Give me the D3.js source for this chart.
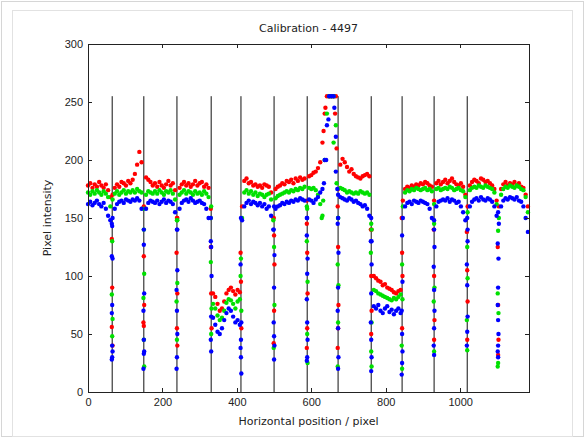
<!DOCTYPE html>
<meta charset="utf-8">
<style>
body { margin: 0; background: #fff; }
svg { display: block; font-family: "DejaVu Sans", sans-serif; }
.axis text { font-size: 11px; fill: #222; }
.axis line { stroke: #222; shape-rendering: crispEdges; }
.axis path { display: none; }
</style>
<body>
<div id="chart"></div>
<script src="https://cdnjs.cloudflare.com/ajax/libs/d3/7.8.5/d3.min.js"></script>
<script>
// sample grid: one value every 6 px of horizontal position (0..1182)
var step = 6;

var red = [
  178,180,176,179,177,181,178,176,179,174,
  168,170,176,179,177,181,180,178,182,180,
  183,188,196,207,198,160,185,183,181,178,
  180,177,181,178,176,179,182,178,180,174,
  150,176,179,181,178,180,177,179,182,178,
  180,181,177,179,176,158,85,82,76,70,
  72,78,85,88,90,87,84,88,86,160,
  182,184,180,181,178,179,177,178,176,179,
  178,177,172,150,175,177,178,180,179,182,
  181,183,180,184,182,185,183,184,165,186,
  187,189,190,193,198,215,240,255,255,255,
  255,255,175,196,201,198,194,190,192,188,
  186,185,184,186,187,188,186,140,100,98,
  96,95,92,93,90,89,88,86,85,87,
  88,165,175,177,176,178,177,179,178,180,
  179,181,180,178,177,165,180,182,179,181,
  183,180,182,184,181,179,178,180,177,170,
  160,178,181,183,182,180,184,183,181,182,
  180,178,175,165,160,175,179,181,178,180,
  179,181,178,180,177,176,170,160
];

var green = [
  172,170,173,171,174,172,170,173,171,168,
  160,166,171,173,170,172,174,171,173,172,
  174,172,175,173,172,158,170,173,172,171,
  173,171,174,172,170,173,172,174,171,166,
  148,170,172,174,171,173,172,170,173,171,
  172,170,173,171,168,150,76,72,66,62,
  64,70,77,80,79,76,72,78,80,150,
  172,174,171,173,170,172,169,171,170,168,
  170,171,166,148,167,169,170,171,172,173,
  172,174,173,175,174,176,175,177,160,176,
  175,176,174,170,162,152,200,240,255,255,
  255,230,150,176,175,174,172,173,172,171,
  172,171,173,172,171,172,170,140,88,87,
  85,84,83,82,81,80,79,81,80,82,
  84,160,172,174,173,175,174,176,175,174,
  175,176,174,175,173,162,175,176,174,175,
  176,175,177,176,174,175,176,174,173,168,
  155,174,176,177,176,178,177,176,178,177,
  176,175,172,162,150,170,175,177,176,178,
  177,176,178,177,175,174,168,155
];

var blue = [
  162,164,161,163,165,162,160,163,158,152,
  148,150,158,162,164,165,163,166,165,164,
  166,165,167,165,158,140,158,163,165,164,
  163,165,162,164,166,163,165,164,162,155,
  140,158,163,165,166,164,167,165,163,164,
  165,163,162,158,150,130,64,58,52,50,
  55,62,68,72,70,65,60,62,58,148,
  160,163,165,162,164,163,161,163,160,162,
  158,160,152,140,158,160,161,163,162,164,
  163,165,164,166,165,167,166,165,150,166,
  165,163,166,168,172,175,200,230,255,255,
  255,220,150,168,167,166,165,167,166,164,
  165,163,162,160,161,158,152,130,74,72,
  75,70,68,72,74,69,71,67,70,72,
  68,150,160,163,164,162,165,164,163,165,
  164,163,162,158,150,140,160,164,165,166,
  165,167,164,166,165,163,164,160,155,148,
  140,160,164,166,167,165,168,166,165,167,
  166,164,160,152,145,160,165,167,166,168,
  167,166,168,165,164,160,150,138
];

// extra points at the edges (x, intensity)
var redDrop = [
  [64,132],[65,90],[64,56],[66,40],
  [150,117],[151,75],[149,60],[150,57],
  [239,150],[238,120],[240,85],[239,55],[240,40],
  [330,125],[331,85],[332,55],
  [410,120],[411,95],[412,55],
  [499,150],[500,135],[501,110],[500,70],[499,42],
  [588,145],[589,120],[590,85],[589,55],[588,38],
  [671,160],[672,125],[673,75],[672,55],[671,38],[633,225],[638,245],[664,240],[668,210],
  [760,140],[761,100],[762,70],[761,50],
  [843,150],[844,120],[845,100],[844,55],
  [929,140],[930,100],[931,62],[930,45],
  [1018,138],[1019,105],[1020,78],[1019,45],
  [1101,125],[1102,75],[1103,45],[1102,32]
];

var greenDrop = [
  [65,130],[64,84],[66,63],[65,48],
  [150,140],[151,102],[149,81],[150,45],[151,22],
  [239,148],[240,94],[238,78],[239,45],
  [331,160],[330,112],[332,72],[331,50],
  [411,115],[410,100],[412,70],
  [500,125],[501,75],[499,38],
  [589,158],[588,130],[590,95],[589,50],[590,25],
  [672,150],[671,110],[673,92],[672,60],[671,22],[628,150],[632,165],[660,215],[668,180],
  [761,145],[760,120],[762,60],[761,35],[762,22],
  [844,110],[845,80],[843,40],[844,20],
  [930,145],[931,90],[929,78],[930,35],
  [1019,125],[1020,98],[1018,62],[1019,36],
  [1102,139],[1101,85],[1103,68],[1102,25],[1101,22]
];

var blueDrop = [
  [64,145],[65,143],[64,117],[66,115],[65,75],[64,68],[65,40],[66,35],[65,30],[64,28],
  [150,127],[151,85],[149,70],[150,45],[151,35],[150,33],[149,20],
  [239,140],[240,105],[238,88],[239,70],[240,50],[239,30],[238,20],
  [330,150],[331,125],[332,100],[331,65],[330,45],[331,35],
  [411,150],[410,110],[412,60],[411,45],[410,38],[411,30],[412,16],
  [500,160],[499,140],[501,118],[500,90],[499,60],[500,48],[501,40],[500,28],
  [589,150],[588,135],[590,115],[589,102],[588,80],[589,60],[590,45],[589,30],[588,27],
  [672,170],[671,145],[673,120],[672,90],[671,70],[672,55],[673,30],[672,20],
  [634,180],[640,200],[646,235],[662,245],[666,190],[670,175],
  [761,150],[760,130],[762,110],[761,85],[760,60],[761,45],[762,30],[761,18],
  [844,135],[845,95],[843,70],[844,50],[845,35],[844,25],[843,15],
  [930,148],[931,125],[929,108],[930,88],[931,70],[930,55],[929,40],[930,32],
  [1019,150],[1020,130],[1018,110],[1019,92],[1020,65],[1019,52],[1018,40],
  [1102,155],[1101,128],[1103,115],[1102,90],[1101,75],[1102,62],[1103,50],[1102,40],[1101,35],[1102,30]
];

var edgeLines = [65,150,239,331,411,500,589,672,761,844,930,1019];
var edgeTop = 255;

var xTicks = [0,200,400,600,800,1000];
var yTicks = [0,50,100,150,200,250,300];

var W = 585, H = 438;
var margin = { top: 44, right: 56, bottom: 46, left: 88 },
    width = W - margin.left - margin.right,
    height = H - margin.top - margin.bottom;

var svgRoot = d3.select("#chart").append("svg")
    .attr("width", W)
    .attr("height", H);

// window frame
svgRoot.append("rect")
    .attr("x", 1.5).attr("y", 1.5)
    .attr("width", W - 3).attr("height", H - 3)
    .attr("fill", "none").attr("stroke", "#d6d6d6");
svgRoot.append("rect")
    .attr("x", 12.5).attr("y", 10.5)
    .attr("width", W - 25).attr("height", H - 12)
    .attr("fill", "none").attr("stroke", "#e2e2e2");

var svg = svgRoot.append("g")
    .attr("transform", "translate(" + margin.left + "," + margin.top + ")");

var x = d3.scaleLinear().domain([0, 1185]).range([0, width]);
var y = d3.scaleLinear().domain([0, 300]).range([height, 0]);

// vertical black lines
svg.selectAll(".edge")
    .data(edgeLines)
    .enter().append("line")
    .attr("class", "edge")
    .attr("x1", function(d) { return x(d); })
    .attr("x2", function(d) { return x(d); })
    .attr("y1", y(0))
    .attr("y2", y(edgeTop))
    .attr("stroke", "#111")
    .attr("stroke-width", 1);

function dots(vals, extra, color) {
    var pts = vals.map(function(v, i) { return [i * step, v]; }).concat(extra);
    svg.append("g").selectAll("circle")
        .data(pts)
        .enter().append("circle")
        .attr("cx", function(d) { return x(d[0]); })
        .attr("cy", function(d) { return y(d[1]); })
        .attr("r", 2.2)
        .attr("fill", color);
}
dots(red, redDrop, "#ff0000");
dots(green, greenDrop, "#00e000");
dots(blue, blueDrop, "#0000ff");

// axes, ticks pointing inwards like MATLAB
svg.append("g")
    .attr("class", "axis")
    .attr("transform", "translate(0," + height + ")")
    .call(d3.axisBottom(x).tickValues(xTicks).tickFormat(d3.format("d")).tickSizeInner(-4).tickSizeOuter(0).tickPadding(6));
svg.append("g")
    .attr("class", "axis")
    .call(d3.axisTop(x).tickValues(xTicks).tickSizeInner(-4).tickSizeOuter(0).tickFormat(""));
svg.append("g")
    .attr("class", "axis")
    .call(d3.axisLeft(y).tickValues(yTicks).tickSizeInner(-4).tickSizeOuter(0).tickPadding(5));
svg.append("g")
    .attr("class", "axis")
    .attr("transform", "translate(" + width + ",0)")
    .call(d3.axisRight(y).tickValues(yTicks).tickSizeInner(-4).tickSizeOuter(0).tickFormat(""));

svg.append("rect")
    .attr("width", width)
    .attr("height", height)
    .attr("fill", "none")
    .attr("stroke", "#222")
    .attr("shape-rendering", "crispEdges");

svg.append("text")
    .attr("x", width / 2)
    .attr("y", -12)
    .attr("text-anchor", "middle")
    .style("font-size", "11px")
    .style("fill", "#222")
    .text("Calibration - 4497");

svg.append("text")
    .attr("x", width / 2)
    .attr("y", height + 33)
    .attr("text-anchor", "middle")
    .style("font-size", "11px")
    .style("fill", "#222")
    .text("Horizontal position / pixel");

svg.append("text")
    .attr("transform", "translate(" + (-37) + "," + (height / 2) + ") rotate(-90)")
    .attr("text-anchor", "middle")
    .style("font-size", "11px")
    .style("fill", "#222")
    .text("Pixel intensity");
</script>
</body>
